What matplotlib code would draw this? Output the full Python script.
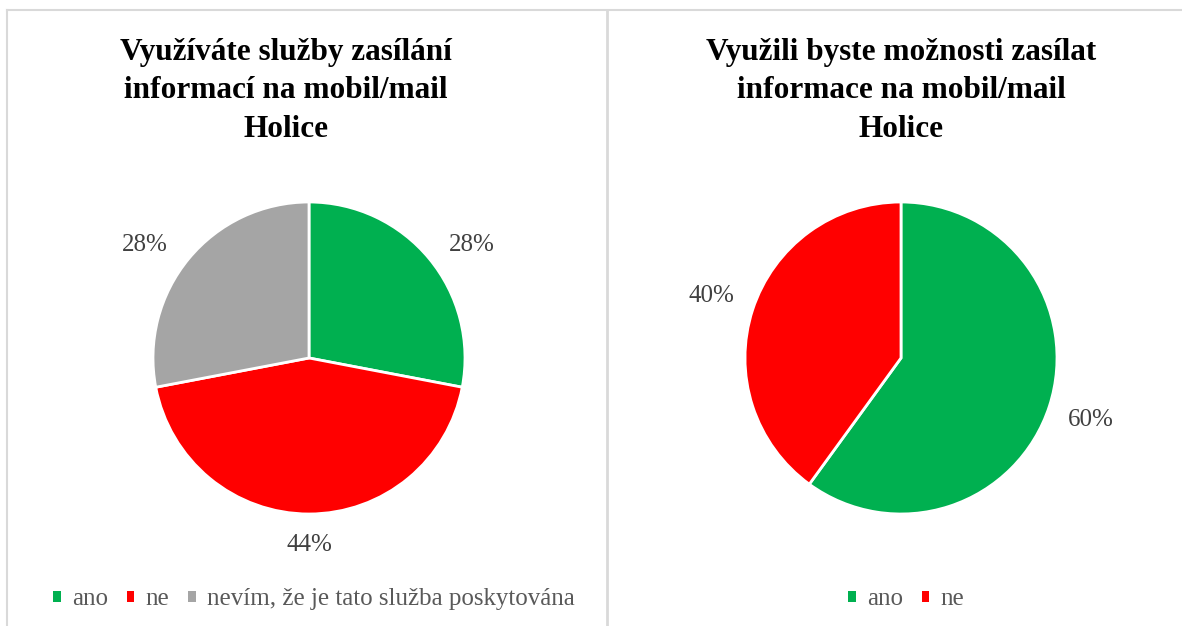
import numpy as np
import matplotlib.pyplot as plt
from matplotlib.lines import Line2D
from matplotlib.patches import Patch

plt.rcParams['font.family'] = ['Liberation Serif', 'DejaVu Serif']

# data
left_title = 'Využíváte služby zasílání\ninformací na mobil/mail\nHolice'
left_labels = ['ano', 'ne', 'nevím, že je tato služba poskytována']
left_values = [28, 44, 28]
left_colors = ['#00B050', '#FF0000', '#A5A5A5']

right_title = 'Využili byste možnosti zasílat\ninformace na mobil/mail\nHolice'
right_labels = ['ano', 'ne']
right_values = [60, 40]
right_colors = ['#00B050', '#FF0000']

W, H = 1182, 626
R = 156  # pie radius in px
fig = plt.figure(figsize=(W / 100, H / 100), dpi=100)


def draw_pie(cx, cy, values, colors, labels, title, tx, lx, dists, shifts):
    box = 420
    ax = fig.add_axes([(cx - box / 2) / W, 1 - (cy + box / 2) / H, box / W, box / H])
    lim = box / 2 / R
    wedges, _, autotexts = ax.pie(values, colors=colors, startangle=90, counterclock=False,
                                  autopct='%1.0f%%', pctdistance=1.26,
                                  wedgeprops=dict(edgecolor='white', linewidth=2),
                                  textprops=dict(fontsize=18, color='#404040'))
    # excel-like label placement (outside end, nudged)
    for w, t, d, s in zip(wedges, autotexts, dists, shifts):
        ang = np.deg2rad((w.theta1 + w.theta2) / 2 + s)
        t.set_position((d * np.cos(ang), d * np.sin(ang)))
    ax.set_xlim(-lim, lim)
    ax.set_ylim(-lim, lim)
    ax.set_aspect('equal')
    ax.axis('off')

    fig.text(tx / W, 1 - 91 / H, title, ha='center', va='center',
             fontsize=22.5, fontweight='bold', color='black', linespacing=1.44)

    handles = [Patch(facecolor=c, edgecolor='none') for c in colors]
    fig.legend(handles, labels, loc='center', bbox_to_anchor=(lx / W, 1 - 599 / H),
               ncol=len(labels), frameon=False, fontsize=18, labelcolor='#595959',
               handlelength=0.3, handleheight=0.3, handletextpad=0.45,
               columnspacing=0.75)


draw_pie(309, 358, left_values, left_colors, left_labels, left_title, 286, 314,
         [1.27, 1.2, 1.28], [-5, 0, 5])
draw_pie(901, 358, right_values, right_colors, right_labels, right_title, 901, 906,
         [1.28, 1.28], [0, 0])

# chart area borders
border = '#D9D9D9'
fig.add_artist(Line2D([7 / W, 1], [1 - 10 / H] * 2, color=border, lw=1.5))
fig.add_artist(Line2D([7 / W] * 2, [0, 1 - 10 / H], color=border, lw=1.5))
fig.add_artist(Line2D([607 / W] * 2, [0, 1 - 10 / H], color=border, lw=2))

fig.savefig('out.png', dpi=100, facecolor='white')
